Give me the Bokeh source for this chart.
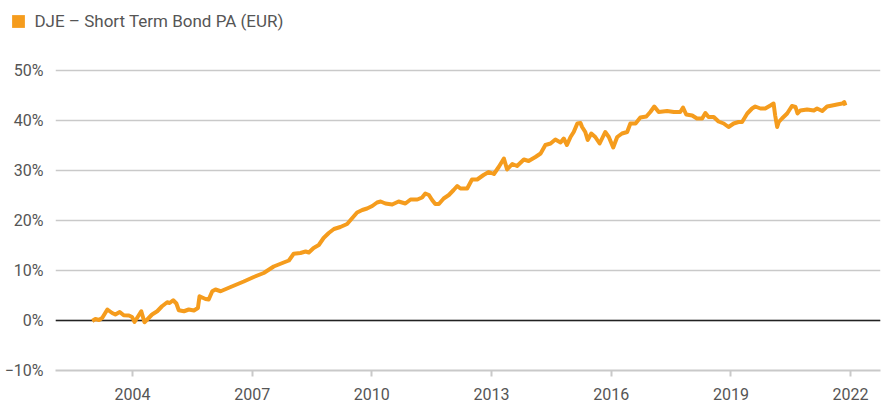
from bokeh.plotting import figure
from bokeh.layouts import column
from bokeh.models import (Range1d, FixedTicker, Span, Legend, LegendItem,
                          ColumnDataSource)
from bokeh.embed import file_html
from bokeh.resources import INLINE

series_name = "DJE – Short Term Bond PA (EUR)"

years = [
    2002.99, 2003.07, 2003.16, 2003.24, 2003.37, 2003.49, 2003.57, 2003.68, 2003.78, 2003.91,
    2003.99, 2004.05, 2004.13, 2004.22, 2004.30, 2004.37, 2004.49, 2004.62, 2004.74, 2004.87,
    2004.93, 2005.02, 2005.10, 2005.16, 2005.29, 2005.41, 2005.54, 2005.64, 2005.68, 2005.83,
    2005.91, 2006.00, 2006.08, 2006.21, 2006.46, 2006.79, 2007.04, 2007.29, 2007.54, 2007.79,
    2007.92, 2008.04, 2008.21, 2008.34, 2008.42, 2008.54, 2008.67, 2008.79, 2008.92, 2009.05,
    2009.21, 2009.38, 2009.51, 2009.63, 2009.76, 2009.88, 2010.01, 2010.13, 2010.22, 2010.34,
    2010.51, 2010.67, 2010.84, 2010.97, 2011.14, 2011.26, 2011.34, 2011.43, 2011.51, 2011.59,
    2011.68, 2011.80, 2011.93, 2012.05, 2012.14, 2012.22, 2012.39, 2012.51, 2012.64, 2012.80,
    2012.93, 2013.06, 2013.18, 2013.31, 2013.39, 2013.52, 2013.64, 2013.81, 2013.93, 2014.10,
    2014.23, 2014.35, 2014.48, 2014.60, 2014.73, 2014.81, 2014.89, 2014.98, 2015.06, 2015.15,
    2015.23, 2015.27, 2015.35, 2015.41, 2015.50, 2015.60, 2015.71, 2015.85, 2015.94, 2016.05,
    2016.15, 2016.27, 2016.40, 2016.48, 2016.61, 2016.73, 2016.88, 2016.98, 2017.08, 2017.19,
    2017.40, 2017.57, 2017.73, 2017.80, 2017.88, 2018.03, 2018.15, 2018.28, 2018.36, 2018.44,
    2018.57, 2018.69, 2018.82, 2018.94, 2019.07, 2019.19, 2019.28, 2019.41, 2019.53, 2019.61,
    2019.74, 2019.86, 2019.99, 2020.07, 2020.11, 2020.16, 2020.20, 2020.28, 2020.41, 2020.53,
    2020.62, 2020.67, 2020.74, 2020.91, 2021.08, 2021.16, 2021.29, 2021.41, 2021.54, 2021.66,
    2021.79, 2021.84, 2021.87,
]

values = [
    -0.1, 0.3, 0.1, 0.5, 2.2, 1.5, 1.2, 1.7, 1.05, 1.0,
    0.7, -0.3, 0.7, 1.85, -0.35, 0.2, 1.2, 1.85, 2.85, 3.65,
    3.5, 4.05, 3.4, 2.05, 1.85, 2.2, 2.0, 2.5, 4.85, 4.3,
    4.2, 5.85, 6.2, 5.85, 6.7, 7.8, 8.7, 9.5, 10.8, 11.6,
    12.0, 13.35, 13.5, 13.8, 13.6, 14.5, 15.1, 16.5, 17.5, 18.3,
    18.7, 19.3, 20.5, 21.6, 22.1, 22.4, 22.9, 23.6, 23.8, 23.4,
    23.2, 23.8, 23.4, 24.2, 24.2, 24.6, 25.4, 25.1, 24.1, 23.3,
    23.3, 24.4, 25.1, 26.1, 26.9, 26.4, 26.4, 28.2, 28.2, 29.1,
    29.7, 29.3, 30.7, 32.4, 30.2, 31.3, 30.9, 32.2, 31.9, 32.7,
    33.4, 35.1, 35.4, 36.2, 35.6, 36.4, 35.1, 36.7, 37.7, 39.4,
    39.5, 38.7, 37.7, 36.1, 37.4, 36.7, 35.4, 37.7, 36.7, 34.6,
    36.7, 37.4, 37.7, 39.4, 39.4, 40.6, 40.8, 41.7, 42.8, 41.7,
    41.9, 41.7, 41.7, 42.6, 41.2, 41.0, 40.4, 40.4, 41.5, 40.7,
    40.7, 39.8, 39.4, 38.7, 39.4, 39.7, 39.7, 41.4, 42.4, 42.8,
    42.4, 42.4, 43.0, 43.4, 41.0, 38.7, 39.7, 40.4, 41.4, 42.9,
    42.7, 41.4, 42.0, 42.2, 42.0, 42.4, 41.9, 42.8, 43.0, 43.2,
    43.4, 43.7, 43.0,
]

x_ticks = [2004, 2007, 2010, 2013, 2016, 2019, 2022]
y_ticks = [-10, 0, 10, 20, 30, 40, 50]
y_tick_labels = ["\u221210%", "0%", "10%", "20%", "30%", "40%", "50%"]

ORANGE = "#f59c1d"
GRID = "#c9c9c9"
TEXT = "#555555"
FONT = "Roboto"

# ---- legend strip ----
lg = figure(width=881, height=40, output_backend="svg", toolbar_location=None,
            x_axis_type=None, y_axis_type=None,
            x_range=Range1d(0, 1), y_range=Range1d(0, 1),
            min_border_left=0, min_border_right=0, min_border_top=0,
            min_border_bottom=0)
lg.outline_line_color = None
if "frame_align" in lg.properties():
    lg.frame_align = False
# a swatch renderer whose only item lies outside the visible range,
# so only its legend entry (a filled square) shows
sw = lg.quad(left=[5], right=[6], top=[6], bottom=[5], fill_color=ORANGE,
             line_color=None)
legend = Legend(items=[LegendItem(label=series_name, renderers=[sw])],
                location=(10.4, 9.5), glyph_width=16, glyph_height=16,
                label_standoff=8, padding=0, spacing=0, margin=0,
                border_line_alpha=0, background_fill_alpha=0,
                label_text_font=FONT, label_text_font_size="17px",
                label_text_color=TEXT)
lg.add_layout(legend)

# ---- main chart ----
p = figure(width=881, height=366, output_backend="svg", toolbar_location=None,
           x_range=Range1d(2002.07, 2022.75), y_range=Range1d(-10, 56),
           min_border_left=55, min_border_right=1, min_border_top=0,
           min_border_bottom=36)
p.outline_line_color = None
p.background_fill_color = "white"
p.border_fill_color = "white"
if "frame_align" in p.properties():
    p.frame_align = False

xa = p.xaxis[0]
xa.ticker = FixedTicker(ticks=x_ticks)
xa.axis_line_color = GRID
xa.axis_line_width = 2
xa.major_tick_line_color = GRID
xa.major_tick_line_width = 2
xa.major_tick_out = 6
xa.major_tick_in = 0
xa.minor_tick_line_color = None
xa.major_label_text_font = FONT
xa.major_label_text_font_size = "16px"
xa.major_label_text_color = TEXT
xa.major_label_standoff = 11

ya = p.yaxis[0]
ya.ticker = FixedTicker(ticks=y_ticks)
ya.major_label_overrides = {t: lab for t, lab in zip(y_ticks, y_tick_labels)}
ya.axis_line_color = None
ya.major_tick_line_color = None
ya.minor_tick_line_color = None
ya.major_tick_out = 0
ya.major_tick_in = 0
ya.major_label_text_font = FONT
ya.major_label_text_font_size = "16px"
ya.major_label_text_color = TEXT
ya.major_label_standoff = 12

p.xgrid.grid_line_color = None
p.ygrid.ticker = FixedTicker(ticks=y_ticks)
p.ygrid.grid_line_color = GRID
p.ygrid.grid_line_width = 1.5

zero = Span(location=0, dimension="width", line_color="#222222", line_width=1.5,
            level="underlay")
p.add_layout(zero)

src = ColumnDataSource(data=dict(x=years, y=values))
p.line("x", "y", source=src, line_color=ORANGE, line_width=4,
       line_join="round")

layout = column(lg, p, spacing=0)
open("out.html", "w").write(file_html(layout, INLINE))
